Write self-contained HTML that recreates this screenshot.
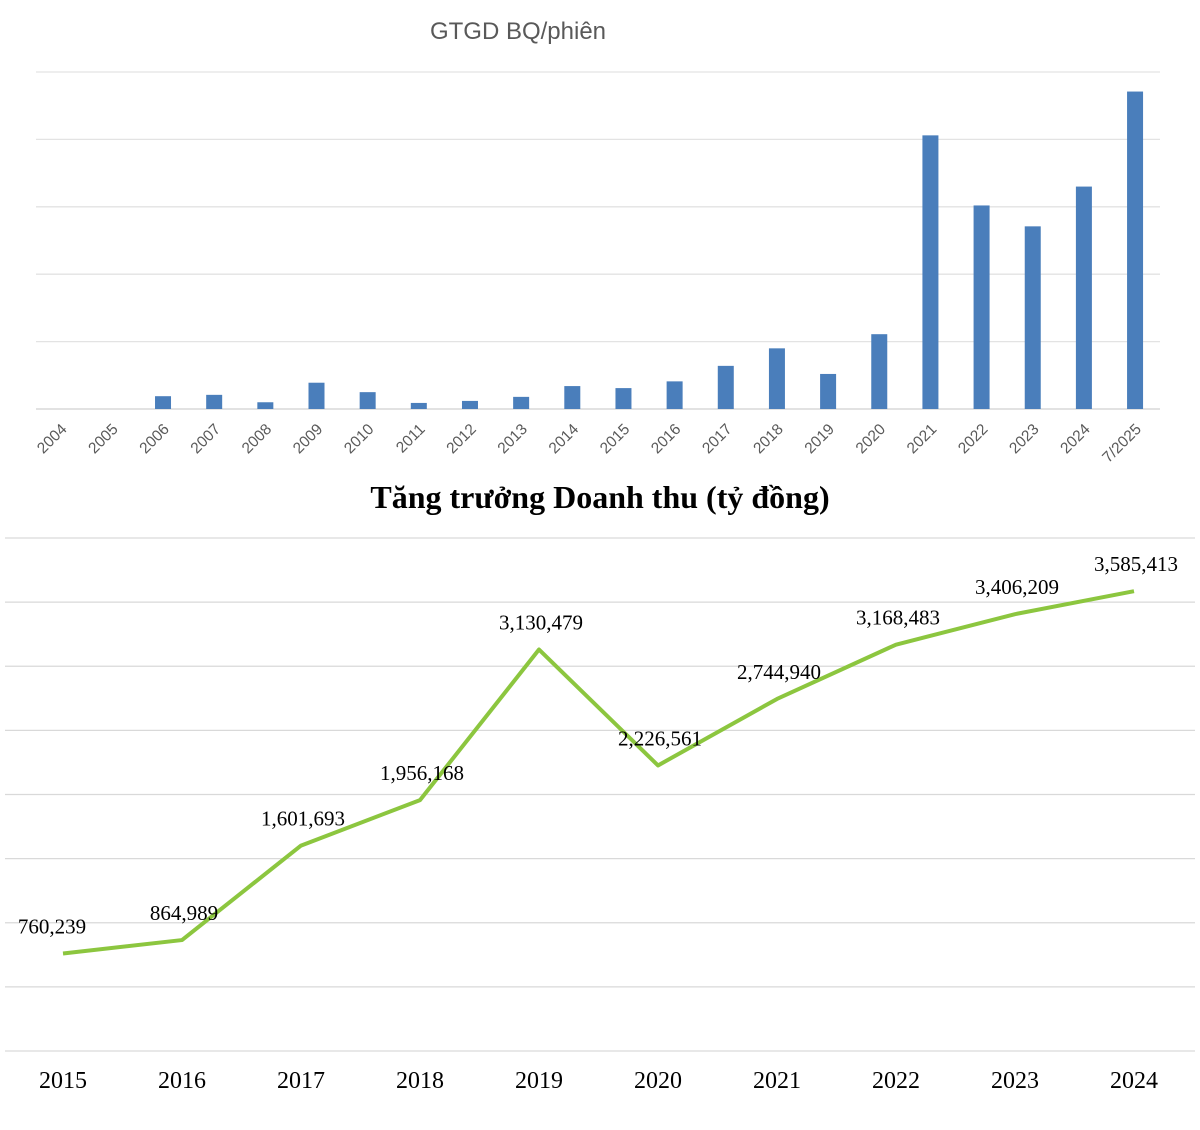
<!DOCTYPE html>
<html><head><meta charset="utf-8"><style>
body{margin:0;background:#fff;}
svg{display:block;}
</style></head><body>
<svg id="c" width="1200" height="1130" xmlns="http://www.w3.org/2000/svg">
<text x="518" y="39" font-family="Liberation Sans, sans-serif" font-size="24" fill="#595959" text-anchor="middle">GTGD BQ/phiên</text>
<text x="600" y="508" font-family="Liberation Serif, serif" font-weight="bold" font-size="32" fill="#000" text-anchor="middle">Tăng trưởng Doanh thu (tỷ đồng)</text>
<g id="gtop"></g><g id="gbot"></g>
</svg>
<script>
const barYears=["2004","2005","2006","2007","2008","2009","2010","2011","2012","2013","2014","2015","2016","2017","2018","2019","2020","2021","2022","2023","2024","7/2025"];
const barValues=[0,0,19,21,10,39,25,9,12,18,34,31,41,64,90,52,111,406,302,271,330,471];
const barTicks=[0,100,200,300,400,500];
const lineYears=["2015","2016","2017","2018","2019","2020","2021","2022","2023","2024"];
const lineValues=[760239,864989,1601693,1956168,3130479,2226561,2744940,3168483,3406209,3585413];
const lineTicks=[0,500000,1000000,1500000,2000000,2500000,3000000,3500000,4000000];
const NS="http://www.w3.org/2000/svg";
function mk(t,a,p){const e=document.createElementNS(NS,t);for(const k in a)e.setAttribute(k,a[k]);p.appendChild(e);return e;}
const gTop=document.getElementById('gtop'),gBot=document.getElementById('gbot');
const ty=v=>409-v*(409-72)/500, tx=i=>60.7+i*51.16;
barTicks.forEach(t=>{const l=mk('line',{x1:36,x2:1160,y1:ty(t),y2:ty(t),stroke:t===0?'#d0d0d0':'#e3e3e3','stroke-width':1.3},gTop);

});
barValues.forEach((v,i)=>{if(v<=0)return;const r=mk('rect',{x:tx(i)-8,y:ty(v),width:16,height:ty(0)-ty(v),fill:'#4a7ebb'},gTop);

});
barYears.forEach((y,i)=>{const x=tx(i)+7,yy=430;const t=mk('text',{x:x,y:yy,'text-anchor':'end','font-family':'Liberation Sans, sans-serif','font-size':15.5,fill:'#595959',transform:`rotate(-45 ${x} ${yy})`},gTop);t.textContent=y;

});
const by=v=>1051-v*(1051-538)/4000000, bx=i=>63+i*119;
lineTicks.forEach(t=>{const l=mk('line',{x1:5,x2:1195,y1:by(t),y2:by(t),stroke:'#d9d9d9','stroke-width':1.3},gBot);

});
const p=mk('polyline',{points:lineValues.map((v,i)=>bx(i)+','+by(v)).join(' '),fill:'none',stroke:'#8cc63f','stroke-width':4,'stroke-linejoin':'round'},gBot);


lineValues.forEach((v,i)=>{const t=mk('text',{x:bx(i)+(i===0?-11:2),y:by(v)-20,'text-anchor':'middle','font-family':'Liberation Serif, serif','font-size':21,fill:'#000'},gBot);t.textContent=v.toLocaleString('en-US');

});
lineYears.forEach((y,i)=>{const t=mk('text',{x:bx(i),y:1088,'text-anchor':'middle','font-family':'Liberation Serif, serif','font-size':24,fill:'#000'},gBot);t.textContent=y;

});
</script>
</body></html>
